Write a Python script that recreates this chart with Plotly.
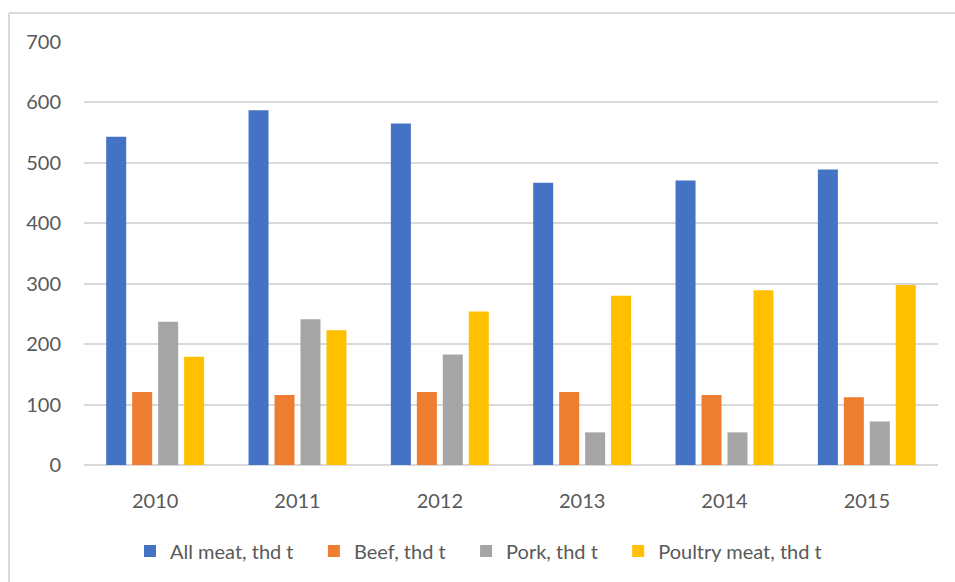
import plotly.graph_objects as go

years = ["2010", "2011", "2012", "2013", "2014", "2015"]
all_meat = [543, 587, 565, 467, 471, 489]
beef = [121, 116, 121, 121, 116, 112]
pork = [237, 241, 183, 54, 54, 72]
poultry = [179, 223, 254, 280, 289, 298]

series_names = ["All meat, thd t", "Beef, thd t", "Pork, thd t", "Poultry meat, thd t"]
series_values = [all_meat, beef, pork, poultry]
colors = ["#4472C4", "#ED7D31", "#A5A5A5", "#FFC000"]

FONT = "Lato"
TXT = "#595959"
GRID = "#D9D9D9"
PAD = "\u00a0" * 3

fig = go.Figure()
for name, vals, col in zip(series_names, series_values, colors):
    fig.add_trace(go.Bar(x=years, y=vals, name=name + PAD,
                         marker=dict(color=col, line=dict(width=0))))

W, H = 955, 582
L, R, T, B = 84, 17, 42, 117
pw, ph = W - L - R, H - T - B

fig.update_layout(
    width=W, height=H,
    margin=dict(l=L, r=R, t=T, b=B, pad=0),
    paper_bgcolor="white", plot_bgcolor="white",
    barmode="group", bargap=0.27, bargroupgap=0.23,
    font=dict(family=FONT, color=TXT, size=19),
    showlegend=True,
    legend=dict(orientation="h", x=(130 - L) / pw, xanchor="left", y=(465 - 551) / ph, yanchor="middle",
                font=dict(family=FONT, size=20, color=TXT), itemwidth=30,
                traceorder="normal"),
    xaxis=dict(showgrid=False, showline=False, ticks="", tickfont=dict(size=20, color=TXT),
               ticklabelstandoff=22),
    yaxis=dict(range=[0, 700], dtick=100, showgrid=True, gridcolor=GRID, gridwidth=1.5,
               zeroline=True, zerolinecolor=GRID, zerolinewidth=1.5,
               showline=False, ticks="", tickfont=dict(size=20, color=TXT), ticklabelstandoff=22),
    shapes=[
        dict(type="line", xref="paper", yref="paper",
             x0=(9 - L) / pw, x1=(W - L) / pw, y0=(H - B - 13) / ph, y1=(H - B - 13) / ph,
             line=dict(color=GRID, width=2)),
        dict(type="line", xref="paper", yref="paper",
             x0=(9 - L) / pw, x1=(9 - L) / pw, y0=(H - B - 13) / ph, y1=(H - B - H) / ph,
             line=dict(color=GRID, width=2)),
    ],
)

fig.write_html("out.html")
